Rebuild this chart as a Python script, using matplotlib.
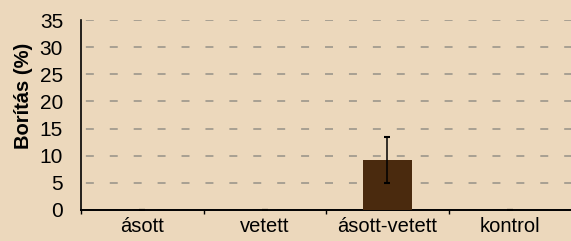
import matplotlib
matplotlib.use("Agg")
import matplotlib.pyplot as plt
import numpy as np

categories = ["ásott", "vetett", "ásott-vetett", "kontrol"]
values = [0.0, 0.0, 9.2, 0.0]
errors = [0.0, 0.0, 4.3, 0.0]
yticks = [0, 5, 10, 15, 20, 25, 30, 35]

plt.rcParams['font.family'] = ['Liberation Sans', 'DejaVu Sans']

bg = '#ECD8BC'
fig = plt.figure(figsize=(5.71, 2.41), dpi=100, facecolor=bg)
ax = fig.add_axes([0.142, 0.129, 0.858, 0.788])
ax.set_facecolor(bg)

x = np.arange(len(categories))
ax.bar(x, values, width=0.4, color='#4A2A0E', zorder=3)
ax.errorbar(x, values, yerr=errors, fmt='none', ecolor='black', elinewidth=1.1,
            capsize=2.5, capthick=1.5, zorder=4)

ax.set_xlim(-0.5, 3.5)
ax.set_ylim(0, 35)
ax.set_yticks(yticks)
ax.set_xticks(x)
ax.set_xticklabels(categories, fontsize=14.5)
ax.tick_params(axis='x', length=0, pad=5)
ax.set_xticks([-0.5, 0.5, 1.5, 2.5], minor=True)
ax.tick_params(axis='x', which='minor', length=3, width=1)
ax.tick_params(axis='y', labelsize=15, length=0, pad=13)
ax.set_yticks([0], minor=True)
ax.tick_params(axis='y', which='minor', length=5, width=1.2)

ax.yaxis.grid(True, linestyle=(9.8, (4.1, 8.2)), color='#A8A092', linewidth=1.4, zorder=0)
ax.set_axisbelow(True)
for s in ['top', 'right']:
    ax.spines[s].set_visible(False)
ax.spines['left'].set_linewidth(1.2)
ax.spines['bottom'].set_linewidth(1.4)

ax.set_ylabel("Borítás (%)", fontsize=14.5, fontweight='bold')
ax.yaxis.set_label_coords(-0.098, 0.6)

fig.savefig("out.png", dpi=100, facecolor=bg)
